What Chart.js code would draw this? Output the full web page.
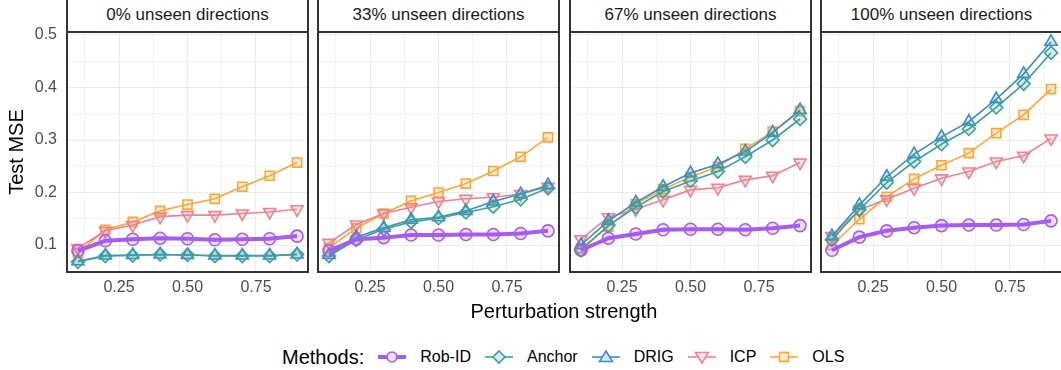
<!DOCTYPE html>
<html>
<head>
<meta charset="utf-8">
<script src="https://cdn.jsdelivr.net/npm/chart.js@4.4.1/dist/chart.umd.min.js"></script>
<style>
  body { margin: 0; width: 1061px; height: 370px; overflow: hidden; background: #fff; position: relative;
         font-family: 'Liberation Sans', Arial, sans-serif; }
  canvas, .strip, .txt { position: absolute; }
  .strip { box-sizing: border-box; border: 2px solid #333; background: #fff; color: #1a1a1a;
           font-size: 17px; text-align: center; line-height: 32px; }
  .txt { white-space: nowrap; }
  #legend { position: absolute; left: 282px; top: 345px; height: 24px; display: flex; align-items: center; }
  #legend .title { font-size: 20px; color: #000; }
  #legend svg { margin-left: 14px; }
  #legend .lab { margin-left: 14px; font-size: 16px; color: #000; }
</style>
</head>
<body>
<div id="legend"></div>
<script>
// x values (perturbation strength) and facet titles
const strengths = [0.1, 0.2, 0.3, 0.4, 0.5, 0.6, 0.7, 0.8, 0.9];
const panelTitles = ['0% unseen directions', '33% unseen directions', '67% unseen directions', '100% unseen directions'];
const methods = ['Rob-ID', 'Anchor', 'DRIG', 'ICP', 'OLS'];

// test MSE, one row per panel
const robIdMSE = [
  [0.089, 0.108, 0.111, 0.113, 0.112, 0.110, 0.111, 0.112, 0.117],
  [0.089, 0.111, 0.114, 0.119, 0.119, 0.120, 0.120, 0.122, 0.127],
  [0.090, 0.113, 0.121, 0.129, 0.130, 0.130, 0.129, 0.132, 0.137],
  [0.090, 0.115, 0.127, 0.133, 0.137, 0.138, 0.138, 0.139, 0.146]
];
const anchorMSE = [
  [0.068, 0.079, 0.080, 0.082, 0.081, 0.079, 0.079, 0.079, 0.082],
  [0.079, 0.110, 0.130, 0.144, 0.151, 0.162, 0.173, 0.187, 0.208],
  [0.090, 0.137, 0.172, 0.202, 0.222, 0.240, 0.268, 0.300, 0.340],
  [0.110, 0.167, 0.219, 0.259, 0.292, 0.321, 0.362, 0.407, 0.466]
];
const drigMSE = [
  [0.069, 0.080, 0.081, 0.082, 0.081, 0.080, 0.080, 0.080, 0.082],
  [0.081, 0.115, 0.133, 0.148, 0.153, 0.165, 0.183, 0.197, 0.214],
  [0.100, 0.146, 0.181, 0.211, 0.237, 0.254, 0.278, 0.314, 0.357],
  [0.117, 0.176, 0.230, 0.273, 0.306, 0.335, 0.378, 0.426, 0.487]
];
const icpMSE = [
  [0.094, 0.127, 0.138, 0.154, 0.157, 0.157, 0.160, 0.163, 0.168],
  [0.104, 0.139, 0.160, 0.172, 0.183, 0.188, 0.191, 0.197, 0.211],
  [0.111, 0.153, 0.168, 0.186, 0.205, 0.209, 0.224, 0.232, 0.257],
  [0.117, 0.167, 0.187, 0.208, 0.227, 0.240, 0.259, 0.270, 0.303]
];
const olsMSE = [
  [0.085, 0.129, 0.144, 0.165, 0.177, 0.188, 0.211, 0.232, 0.257],
  [0.094, 0.132, 0.160, 0.184, 0.200, 0.217, 0.241, 0.268, 0.305],
  [0.094, 0.135, 0.178, 0.206, 0.230, 0.249, 0.283, 0.316, 0.355],
  [0.100, 0.149, 0.192, 0.226, 0.252, 0.275, 0.313, 0.348, 0.397]
];
const seriesByMethod = [robIdMSE, anchorMSE, drigMSE, icpMSE, olsMSE];

// tick labels
const xTickLabels = ['0.25', '0.50', '0.75'];
const yTickLabels = ['0.1', '0.2', '0.3', '0.4', '0.5'];

// look of each method
const looks = [
  { color: '#A65CEE', fill: 'rgba(166,92,238,0.2)', point: 'circle', radius: 6, rotation: 0, width: 4 },
  { color: '#3BA29B', fill: 'rgba(59,162,155,0.2)', point: 'rectRot', radius: 6.5, rotation: 0, width: 1.6 },
  { color: '#3A8DC8', fill: 'rgba(58,141,200,0.2)', point: 'triangle', radius: 7, rotation: 0, width: 1.6 },
  { color: '#F0828F', fill: 'rgba(240,130,143,0.2)', point: 'triangle', radius: 7, rotation: 180, width: 1.6 },
  { color: '#FFA533', fill: 'rgba(255,165,51,0.2)', point: 'rect', radius: 6.4, rotation: 0, width: 1.6 }
];

// layout
const panelLeft = [67, 318, 570, 821];
const panelW = 241, panelTop = 32, panelH = 240, xAxisH = 30, pad = 3, yAxisW = 67;
const FONT = "'Liberation Sans', Arial, sans-serif";

const xMajor = xTickLabels.map(Number);
const xGrid = [0.125, 0.25, 0.375, 0.5, 0.625, 0.75, 0.875];
const yMajor = yTickLabels.map(Number);
const yGrid = [];
yMajor.forEach(v => { yGrid.push(+(v - 0.05).toFixed(3)); yGrid.push(v); });

const isIn = (arr, v) => arr.findIndex(t => Math.abs(t - v) < 1e-6);

const panelBorder = {
  id: 'panelBorder',
  afterDraw(chart) {
    const a = chart.chartArea, ctx = chart.ctx;
    ctx.save();
    ctx.strokeStyle = '#333';
    ctx.lineWidth = 2;
    ctx.strokeRect(a.left, a.top, a.right - a.left, a.bottom - a.top);
    ctx.restore();
  }
};

function noPadding(s) {
  s.paddingTop = 0; s.paddingBottom = 0; s.paddingLeft = 0; s.paddingRight = 0;
}

function addText(text, css) {
  const d = document.createElement('div');
  d.className = 'txt';
  d.textContent = text;
  Object.assign(d.style, css);
  document.body.appendChild(d);
  return d;
}

panelTitles.forEach((title, p) => {
  // strip
  const s = document.createElement('div');
  s.className = 'strip';
  s.textContent = title;
  Object.assign(s.style, { left: (panelLeft[p] - 1) + 'px', top: '-3px', width: (panelW + 2) + 'px', height: '36px' });
  document.body.appendChild(s);

  const first = p === 0;
  const canvas = document.createElement('canvas');
  const leftPad = first ? 0 : pad;
  const topPad = first ? 14 : pad;
  const yW = first ? yAxisW : 0;
  canvas.width = leftPad + yW + panelW + pad;
  canvas.height = topPad + panelH + xAxisH;
  canvas.style.left = (panelLeft[p] - yW - leftPad) + 'px';
  canvas.style.top = (panelTop - topPad) + 'px';
  document.body.appendChild(canvas);

  const datasets = methods.map((m, k) => {
    const lk = looks[k];
    return {
      label: m,
      data: strengths.map((x, i) => ({ x: x, y: seriesByMethod[k][p][i] })),
      borderColor: lk.color,
      backgroundColor: lk.fill,
      borderWidth: lk.width,
      pointStyle: lk.point,
      pointRadius: lk.radius,
      pointRotation: lk.rotation,
      pointBorderColor: lk.color,
      pointBackgroundColor: lk.fill,
      pointBorderWidth: 1.6,
      tension: 0,
      fill: false
    };
  });

  new Chart(canvas.getContext('2d'), {
    type: 'line',
    data: { datasets: datasets },
    options: {
      responsive: false,
      animation: false,
      events: [],
      layout: { padding: { left: leftPad, right: pad, top: topPad, bottom: 0 }, autoPadding: false },
      plugins: { legend: { display: false }, tooltip: { enabled: false } },
      scales: {
        x: {
          type: 'linear', min: 0.06, max: 0.94,
          border: { display: false },
          grid: {
            drawTicks: false,
            color: c => isIn(xMajor, c.tick.value) >= 0 ? '#EBEBEB' : '#F3F3F3',
            lineWidth: 1
          },
          afterBuildTicks: s => { s.ticks = xGrid.map(v => ({ value: v })); },
          afterFit: s => { s.height = xAxisH; noPadding(s); },
          ticks: {
            padding: 6, color: '#4D4D4D', font: { size: 16, family: FONT },
            maxRotation: 0, autoSkip: false,
            callback: v => { const k = isIn(xMajor, v); return k >= 0 ? xTickLabels[k] : ''; }
          }
        },
        y: {
          type: 'linear', min: 0.0486, max: 0.5057,
          border: { display: false },
          grid: {
            drawTicks: false,
            color: c => isIn(yMajor, c.tick.value) >= 0 ? '#EBEBEB' : '#F3F3F3',
            lineWidth: 1
          },
          afterBuildTicks: s => { s.ticks = yGrid.map(v => ({ value: v })); },
          afterFit: s => { s.width = yW; noPadding(s); },
          title: {
            display: first, text: 'Test MSE', color: '#000',
            font: { size: 20, family: FONT }, padding: { top: 5, bottom: 0 }
          },
          ticks: {
            display: first, padding: 10, color: '#4D4D4D', font: { size: 16, family: FONT },
            autoSkip: false,
            callback: v => { const k = isIn(yMajor, v); return k >= 0 ? yTickLabels[k] : ''; }
          }
        }
      }
    },
    plugins: [panelBorder]
  });
});

// x axis title
const xt = addText('Perturbation strength', { fontSize: '20px', color: '#000', top: '299px', left: '0px', lineHeight: '24px' });
xt.style.left = (564 - xt.offsetWidth / 2) + 'px';

// legend
function legendIcon(k) {
  const lk = looks[k];
  const cx = 14, cy = 8;
  let mark = '';
  if (lk.point === 'circle') {
    mark = `<circle cx="${cx}" cy="${cy}" r="5" />`;
  } else if (lk.point === 'rectRot') {
    mark = `<polygon points="${cx},${cy - 6} ${cx + 6},${cy} ${cx},${cy + 6} ${cx - 6},${cy}" />`;
  } else if (lk.point === 'triangle' && lk.rotation === 0) {
    mark = `<polygon points="${cx},${cy - 6} ${cx + 6.5},${cy + 4.5} ${cx - 6.5},${cy + 4.5}" />`;
  } else if (lk.point === 'triangle') {
    mark = `<polygon points="${cx},${cy + 6} ${cx + 6.5},${cy - 4.5} ${cx - 6.5},${cy - 4.5}" />`;
  } else {
    mark = `<rect x="${cx - 4.5}" y="${cy - 4.5}" width="9" height="9" />`;
  }
  return `<svg width="28" height="16" viewBox="0 0 28 16">
    <line x1="0" y1="${cy}" x2="28" y2="${cy}" stroke="${lk.color}" stroke-width="${lk.width}" />
    <g fill="#fff" stroke="${lk.color}" stroke-width="1.6">${mark}</g>
    <g fill="${lk.fill}" stroke="none">${mark}</g>
  </svg>`;
}
const legend = document.getElementById('legend');
let html = '<span class="title">Methods:</span>';
methods.forEach((m, k) => { html += legendIcon(k) + `<span class="lab">${m}</span>`; });
legend.innerHTML = html;
</script>
</body>
</html>
